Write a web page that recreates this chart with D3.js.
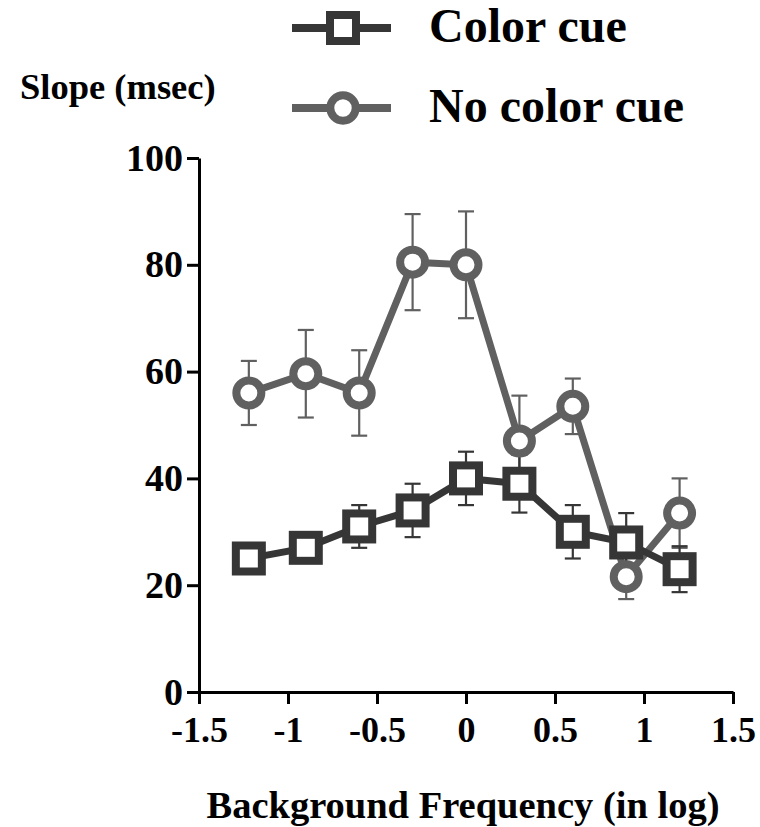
<!DOCTYPE html>
<html>
<head>
<meta charset="utf-8">
<script src="https://cdn.jsdelivr.net/npm/d3@7"></script>
<style>
  body { margin: 0; background: #fff; }
</style>
</head>
<body>
<div id="chart"></div>
<script>
(function() {
  var width = 760,
      height = 827;

  // background frequency (log units)
  var freqs = [-1.22, -0.9, -0.6, -0.3, 0, 0.3, 0.6, 0.9, 1.2];

  var colorCue = [25, 27, 31, 34, 40, 39, 30, 28, 23];
  var colorCueErr = [2.5, 2.5, 4, 5, 5, 5.4, 5, 5.5, 4.3];

  var noColorCue = [56, 59.6, 56, 80.5, 80, 47, 53.5, 21.6, 33.5];
  var noColorCueErr = [6, 8.2, 8, 9, 10, 8.5, 5.2, 4.2, 6.5];

  var xTicks = [-1.5, -1, -0.5, 0, 0.5, 1, 1.5];
  var yTicks = [0, 20, 40, 60, 80, 100];

  var seriesNames = ["Color cue", "No color cue"];

  var dark = "#363636",
      gray = "#606060";

  var serif = "'Liberation Serif', 'Times New Roman', Times, serif";

  var svg = d3.select("#chart")
      .append("svg")
      .attr("width", width)
      .attr("height", height)
      .attr("font-family", serif)
      .attr("font-weight", "bold");

  var x = d3.scaleLinear().domain([-1.5, 1.5]).range([199, 733]);
  var y = d3.scaleLinear().domain([0, 100]).range([692, 158]);

  // axes
  var xAxis = svg.append("g")
      .attr("transform", "translate(0," + y(0) + ")")
      .call(d3.axisBottom(x)
        .tickValues(xTicks)
        .tickFormat(function(d) { return String(d); })
        .tickSize(12)
        .tickSizeOuter(0)
        .tickPadding(12));

  var yAxis = svg.append("g")
      .attr("transform", "translate(" + x(-1.5) + ",0)")
      .call(d3.axisLeft(y)
        .tickValues(yTicks)
        .tickSize(12)
        .tickSizeOuter(0)
        .tickPadding(4));

  xAxis.attr("font-size", 36);
  yAxis.attr("font-size", 38);
  [xAxis, yAxis].forEach(function(ax) {
    ax.attr("font-family", serif);
    ax.select(".domain").attr("stroke", "#000").attr("stroke-width", 3);
    ax.selectAll(".tick line").attr("stroke", "#000").attr("stroke-width", 3);
    ax.selectAll(".tick text").attr("fill", "#000");
  });

  // error bars
  function errorBars(vals, errs, col) {
    var g = svg.append("g")
        .attr("stroke", col)
        .attr("stroke-width", 2.2);
    vals.forEach(function(v, i) {
      var cx = x(freqs[i]);
      g.append("line")
        .attr("x1", cx).attr("x2", cx)
        .attr("y1", y(v - errs[i])).attr("y2", y(v + errs[i]));
      [v - errs[i], v + errs[i]].forEach(function(e) {
        g.append("line")
          .attr("x1", cx - 8).attr("x2", cx + 8)
          .attr("y1", y(e)).attr("y2", y(e));
      });
    });
  }

  errorBars(noColorCue, noColorCueErr, gray);
  errorBars(colorCue, colorCueErr, dark);

  var line = d3.line()
      .x(function(d, i) { return x(freqs[i]); })
      .y(function(d) { return y(d); });

  // no color cue: circles
  svg.append("path")
    .datum(noColorCue)
    .attr("d", line)
    .attr("fill", "none")
    .attr("stroke", gray)
    .attr("stroke-width", 7);

  svg.selectAll(".circ")
    .data(noColorCue)
    .enter().append("circle")
    .attr("class", "circ")
    .attr("cx", function(d, i) { return x(freqs[i]); })
    .attr("cy", function(d) { return y(d); })
    .attr("r", 12.5)
    .attr("fill", "#fff")
    .attr("stroke", gray)
    .attr("stroke-width", 8);

  // color cue: squares
  svg.append("path")
    .datum(colorCue)
    .attr("d", line)
    .attr("fill", "none")
    .attr("stroke", dark)
    .attr("stroke-width", 7);

  svg.selectAll(".sq")
    .data(colorCue)
    .enter().append("rect")
    .attr("class", "sq")
    .attr("x", function(d, i) { return x(freqs[i]) - 13; })
    .attr("y", function(d) { return y(d) - 13; })
    .attr("width", 26)
    .attr("height", 26)
    .attr("fill", "#fff")
    .attr("stroke", dark)
    .attr("stroke-width", 8);

  // legend
  var legend = svg.append("g");
  var legendY = [28, 108];

  seriesNames.forEach(function(name, i) {
    var col = i === 0 ? dark : gray;
    var ly = legendY[i];
    legend.append("line")
      .attr("x1", 292).attr("x2", 391)
      .attr("y1", ly).attr("y2", ly)
      .attr("stroke", col)
      .attr("stroke-width", 8);
    if (i === 0) {
      legend.append("rect")
        .attr("x", 343 - 13).attr("y", ly - 13)
        .attr("width", 26).attr("height", 26)
        .attr("fill", "#fff")
        .attr("stroke", col)
        .attr("stroke-width", 8);
    } else {
      legend.append("circle")
        .attr("cx", 343).attr("cy", ly)
        .attr("r", 12.7)
        .attr("fill", "#fff")
        .attr("stroke", col)
        .attr("stroke-width", 8);
    }
    legend.append("text")
      .attr("x", 429)
      .attr("y", ly + 14)
      .attr("font-size", 48)
      .attr("fill", "#000")
      .text(name);
  });

  // axis titles
  svg.append("text")
    .attr("x", 20)
    .attr("y", 99)
    .attr("font-size", 36.5)
    .attr("fill", "#000")
    .text("Slope (msec)");

  svg.append("text")
    .attr("x", 463)
    .attr("y", 818)
    .attr("text-anchor", "middle")
    .attr("font-size", 38.5)
    .attr("fill", "#000")
    .text("Background Frequency (in log)");
})();
</script>
</body>
</html>
